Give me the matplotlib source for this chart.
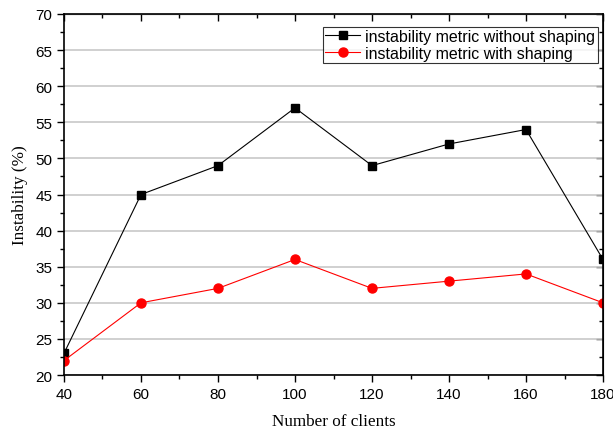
import matplotlib
matplotlib.use('Agg')
import matplotlib.pyplot as plt
from matplotlib.ticker import MultipleLocator

# data
clients = [40, 60, 80, 100, 120, 140, 160, 180]
without_shaping = [23, 45, 49, 57, 49, 52, 54, 36]
with_shaping = [22, 30, 32, 36, 32, 33, 34, 30]

plt.rcParams['font.family'] = ['Liberation Sans', 'DejaVu Sans']

fig = plt.figure(figsize=(6.13, 4.31), dpi=100)
ax = fig.add_axes([0.1044, 0.1276, 0.8793, 0.8376])

ax.plot(clients, without_shaping, color='black', lw=0.8, marker='s', ms=6,
        label='instability metric without shaping')
ax.plot(clients, with_shaping, color='red', lw=0.8, marker='o', ms=6.5,
        label='instability metric with shaping')

ax.set_xlim(40, 180)
ax.set_ylim(20, 70)
ax.xaxis.set_major_locator(MultipleLocator(20))
ax.xaxis.set_minor_locator(MultipleLocator(10))
ax.yaxis.set_major_locator(MultipleLocator(5))
ax.yaxis.set_minor_locator(MultipleLocator(2.5))

ax.grid(axis='y', which='major', color='#c8c8c8', lw=1.2)
ax.set_axisbelow(True)

ax.tick_params(which='both', direction='out', labelsize=11, width=1)
ax.tick_params(which='major', length=5)
ax.tick_params(which='minor', length=3)
for s in ax.spines.values():
    s.set_linewidth(1.2)

# mirrored ticks on top and right, pointing in
sec_x = ax.secondary_xaxis('top')
sec_x.xaxis.set_major_locator(MultipleLocator(20))
sec_x.xaxis.set_minor_locator(MultipleLocator(10))
sec_x.tick_params(which='both', direction='in', labeltop=False, width=1)
sec_x.tick_params(which='major', length=5)
sec_x.tick_params(which='minor', length=3)
sec_y = ax.secondary_yaxis('right')
sec_y.yaxis.set_major_locator(MultipleLocator(5))
sec_y.yaxis.set_minor_locator(MultipleLocator(2.5))
sec_y.tick_params(which='both', direction='in', labelright=False, width=1)
sec_y.tick_params(which='major', length=5)
sec_y.tick_params(which='minor', length=3)

ax.set_xlabel('Number of clients', fontfamily='Liberation Serif', fontsize=12.3, labelpad=9)
ax.set_ylabel('Instability (%)', fontfamily='Liberation Serif', fontsize=12.3, labelpad=5)

leg = ax.legend(loc='upper right', bbox_to_anchor=(0.99, 0.965), fontsize=11.5,
                frameon=True, fancybox=False, borderpad=0.15, labelspacing=0.1,
                handlelength=2.2, handletextpad=0.3, borderaxespad=0)
leg.get_frame().set_edgecolor('black')
leg.get_frame().set_linewidth(0.8)

fig.savefig('out.png', dpi=100)
